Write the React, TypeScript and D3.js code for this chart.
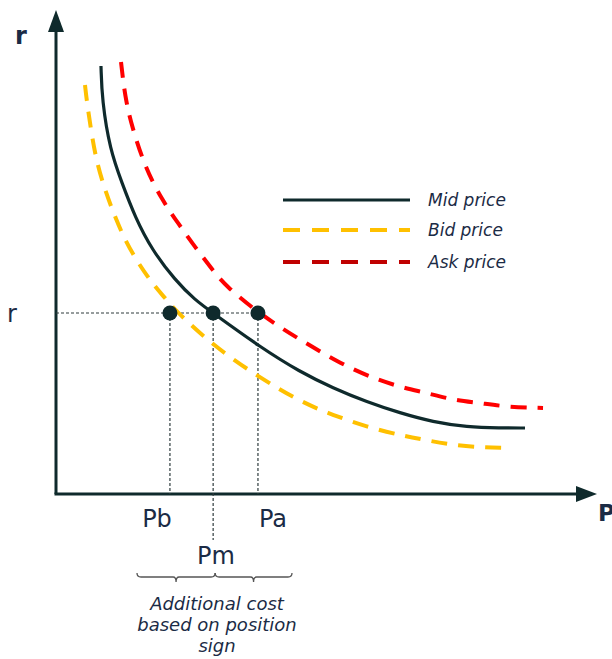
import React from "react";
import * as d3 from "d3";

// Curves: P (price) and r (rate), both on 0–100 scales
const midP = [8.33, 8.52, 10.0, 12.22, 14.63, 17.78, 22.04, 25.74, 29.07, 37.78, 45.19, 51.3, 57.59, 63.7, 69.81, 76.11, 82.22, 86.85];
const midR = [88.43, 81.4, 71.07, 64.26, 57.23, 50.41, 44.21, 40.08, 37.4, 30.37, 25.21, 21.9, 19.01, 16.74, 14.88, 13.84, 13.64, 13.64];

const bidP = [5.37, 5.74, 7.22, 9.07, 10.93, 12.78, 15.19, 18.33, 20.56, 21.67, 28.89, 37.78, 45.74, 51.3, 57.59, 63.7, 67.41, 75.37, 83.7];
const bidR = [84.5, 80.79, 69.63, 62.81, 57.23, 52.48, 47.73, 42.77, 40.08, 38.43, 30.79, 23.97, 18.8, 16.32, 13.84, 12.19, 11.36, 9.71, 9.5];

const askP = [12.04, 12.78, 14.07, 16.48, 19.63, 22.59, 25.74, 29.44, 31.3, 37.41, 44.63, 53.15, 58.7, 63.7, 68.7, 73.52, 78.52, 83.52, 90.19];
const askR = [89.26, 82.02, 75.83, 67.56, 60.74, 55.99, 51.03, 45.66, 43.18, 37.4, 32.23, 26.65, 23.97, 22.11, 20.87, 19.42, 18.8, 17.98, 17.77];

const pointLabels = ["Pb", "Pm", "Pa"];
const pointP = [21.1, 29.1, 37.4];
const rLevel = 37.4;

const legendLabels = ["Mid price", "Bid price", "Ask price"];
const noteLines = ["Additional cost", "based on position", "sign"];

const DARK = "#0f2a2c";
const YELLOW = "#ffc000";
const RED = "#ff0000";
const RED_LEG = "#c00000";
const TEXT = "#1b2b45";
const FONT = "DejaVu Sans, Verdana, sans-serif";

export default function App() {
  const x = d3.scaleLinear().domain([0, 100]).range([56, 596]);
  const y = d3.scaleLinear().domain([0, 100]).range([494, 10]);

  const line = d3
    .line<[number, number]>()
    .x((d) => x(d[0]))
    .y((d) => y(d[1]))
    .curve(d3.curveBasis);

  const zip = (a: number[], b: number[]) => a.map((v, i) => [v, b[i]] as [number, number]);

  const x0 = x(0);
  const y0 = y(0);
  const yr = y(rLevel);

  const [pb, pm, pa] = pointP.map((p) => x(p));
  const braceY = 577;
  const bL = 137;
  const bR = 292;

  const halfBrace = (a: number, b: number) => {
    const m = (a + b) / 2;
    return `M${a},${braceY - 4} Q${a},${braceY} ${a + 4},${braceY} L${m - 3},${braceY} Q${m},${braceY} ${m},${braceY + 5} Q${m},${braceY} ${m + 3},${braceY} L${b - 4},${braceY} Q${b},${braceY} ${b},${braceY - 4}`;
  };

  const legendColors = [DARK, YELLOW, RED_LEG];
  const legendDash = [null, "17 12", "17 12"];
  const legendY = [200, 230, 262];

  return (
    <svg
      width={612}
      height={659}
      style={{ position: "absolute", left: 0, top: 0, background: "#fff" }}
      fontFamily={FONT}
    >
      {/* axes */}
      <line x1={x0} y1={y0} x2={x0} y2={28} stroke={DARK} strokeWidth={3} />
      <path d={`M${x0},10 L${x0 - 8},32 L${x0 + 8},32 Z`} fill={DARK} />
      <line x1={x0 - 1.5} y1={y0} x2={580} y2={y0} stroke={DARK} strokeWidth={3} />
      <path d={`M597,${y0} L576,${y0 - 8} L576,${y0 + 8} Z`} fill={DARK} />
      <text x={15} y={44} fontSize={24} fontWeight="bold" fill={TEXT}>r</text>
      <text x={598} y={521} fontSize={23} fontWeight="bold" fill={TEXT}>P</text>
      <text x={7} y={322} fontSize={24} fill={TEXT}>r</text>

      {/* guide lines */}
      <g stroke="#2e3b3d" strokeWidth={1.2} strokeDasharray="3 2">
        <line x1={x0} y1={yr} x2={pa} y2={yr} />
        <line x1={pb} y1={yr} x2={pb} y2={y0} />
        <line x1={pm} y1={yr} x2={pm} y2={540} />
        <line x1={pa} y1={yr} x2={pa} y2={y0} />
      </g>

      {/* curves */}
      <path d={line(zip(bidP, bidR)) || ""} fill="none" stroke={YELLOW} strokeWidth={4} strokeDasharray="16 11" />
      <path d={line(zip(askP, askR)) || ""} fill="none" stroke={RED} strokeWidth={4} strokeDasharray="16 11" />
      <path d={line(zip(midP, midR)) || ""} fill="none" stroke={DARK} strokeWidth={3.2} />

      {/* points */}
      {pointP.map((p, i) => (
        <circle key={i} cx={x(p)} cy={yr} r={7.5} fill={DARK} />
      ))}

      {/* point labels */}
      <text x={157} y={527} fontSize={24} fill={TEXT} textAnchor="middle">{pointLabels[0]}</text>
      <text x={216} y={564} fontSize={24} fill={TEXT} textAnchor="middle">{pointLabels[1]}</text>
      <text x={273} y={527} fontSize={24} fill={TEXT} textAnchor="middle">{pointLabels[2]}</text>

      {/* brace */}
      <path d={halfBrace(bL, pm + 2)} fill="none" stroke="#555" strokeWidth={1.3} />
      <path d={halfBrace(pm + 2, bR)} fill="none" stroke="#555" strokeWidth={1.3} />
      {noteLines.map((t, i) => (
        <text key={i} x={217} y={610 + i * 21} fontSize={18} fontStyle="italic" fill={TEXT} textAnchor="middle">
          {t}
        </text>
      ))}

      {/* legend */}
      {legendLabels.map((t, i) => (
        <g key={t}>
          <line
            x1={283}
            x2={410}
            y1={legendY[i]}
            y2={legendY[i]}
            stroke={legendColors[i]}
            strokeWidth={i === 0 ? 3 : 4}
            strokeDasharray={legendDash[i] || undefined}
          />
          <text x={428} y={legendY[i] + 6} fontSize={17} fontStyle="italic" fill={TEXT}>
            {t}
          </text>
        </g>
      ))}
    </svg>
  );
}
